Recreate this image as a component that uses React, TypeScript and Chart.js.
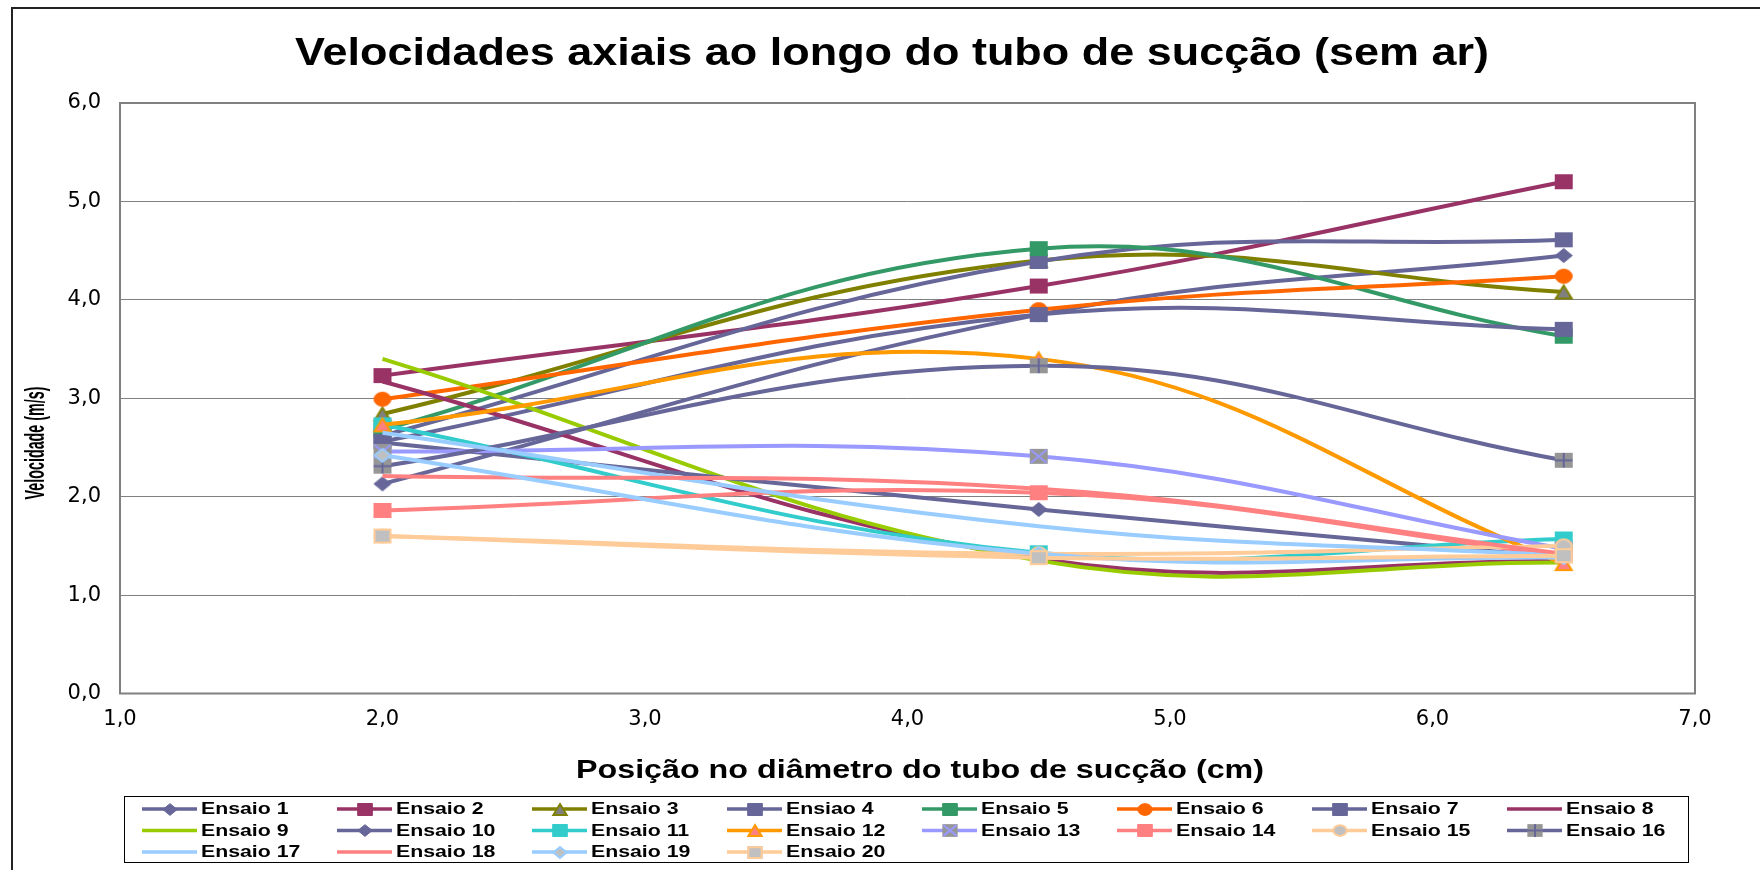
import React, { useEffect, useRef } from 'react';
import { Chart, registerables } from 'chart.js';

Chart.register(...registerables);

// ---------- DATA ----------
const positions = [2.0, 4.5, 6.5];
const seriesNames = [
  'Ensaio 1', 'Ensaio 2', 'Ensaio 3', 'Ensiao 4', 'Ensaio 5', 'Ensaio 6', 'Ensaio 7', 'Ensaio 8',
  'Ensaio 9', 'Ensaio 10', 'Ensaio 11', 'Ensaio 12', 'Ensaio 13', 'Ensaio 14', 'Ensaio 15', 'Ensaio 16',
  'Ensaio 17', 'Ensaio 18', 'Ensaio 19', 'Ensaio 20',
];
const ensaio1 = [2.13, 3.85, 4.45];
const ensaio2 = [3.23, 4.14, 5.2];
const ensaio3 = [2.84, 4.4, 4.08];
const ensaio4 = [2.62, 4.39, 4.61];
const ensaio5 = [2.68, 4.52, 3.63];
const ensaio6 = [2.99, 3.9, 4.24];
const ensaio7 = [2.56, 3.85, 3.7];
const ensaio8 = [3.17, 1.37, 1.35];
const ensaio9 = [3.4, 1.35, 1.33];
const ensaio10 = [2.55, 1.87, 1.38];
const ensaio11 = [2.73, 1.43, 1.57];
const ensaio12 = [2.73, 3.4, 1.32];
const ensaio13 = [2.46, 2.41, 1.47];
const ensaio14 = [1.86, 2.04, 1.4];
const ensaio15 = [1.6, 1.42, 1.5];
const ensaio16 = [2.31, 3.33, 2.37];
const ensaio17 = [2.65, 1.7, 1.4];
const ensaio18 = [2.21, 2.08, 1.42];
const ensaio19 = [2.42, 1.42, 1.38];
const ensaio20 = [1.6, 1.38, 1.4];
const seriesValues = [
  ensaio1, ensaio2, ensaio3, ensaio4, ensaio5, ensaio6, ensaio7, ensaio8, ensaio9, ensaio10,
  ensaio11, ensaio12, ensaio13, ensaio14, ensaio15, ensaio16, ensaio17, ensaio18, ensaio19, ensaio20,
];
const xTickValues = [1, 2, 3, 4, 5, 6, 7];
const yTickValues = [0, 1, 2, 3, 4, 5, 6];

const chartTitle = 'Velocidades axiais ao longo do tubo de sucção (sem ar)';
const xTitle = 'Posição no diâmetro do tubo de sucção (cm)';
const yTitle = 'Velocidade (m/s)';

// ---------- STYLES ----------
type MarkerKind = 'none' | 'square' | 'diamond' | 'triangle' | 'circle' | 'squareX' | 'squarePlus';
const lineColors = [
  '#666699', '#993366', '#808000', '#666699', '#339966', '#FF6600', '#666699', '#993366',
  '#99CC00', '#666699', '#33CCCC', '#FF9900', '#9999FF', '#FF8080', '#FFCC99', '#666699',
  '#99CCFF', '#FF8080', '#99CCFF', '#FFCC99',
];
const markerKinds: MarkerKind[] = [
  'diamond', 'square', 'triangle', 'square', 'square', 'circle', 'square', 'none',
  'none', 'diamond', 'square', 'triangle', 'squareX', 'square', 'circle', 'squarePlus',
  'none', 'none', 'diamond', 'square',
];
const markerFills = [
  '#666699', '#993366', '#808080', '#666699', '#339966', '#FF6600', '#666699', '',
  '', '#666699', '#33CCCC', '#FF8080', '#969696', '#FF8080', '#C0C0C0', '#969696',
  '', '', '#C0C0C0', '#C0C0C0',
];

const FONT = '"Liberation Sans", Arial, sans-serif';

function makeMarker(kind: MarkerKind, fill: string, stroke: string, scale = 1): HTMLCanvasElement | null {
  if (kind === 'none') return null;
  const w = 18 * scale;
  const h = 15 * scale;
  const pad = 2;
  const c = document.createElement('canvas');
  c.width = Math.ceil(w + pad * 2);
  c.height = Math.ceil(h + pad * 2);
  const ctx = c.getContext('2d')!;
  const cx = c.width / 2;
  const cy = c.height / 2;
  const lw = fill === stroke ? 1 : 2;
  ctx.lineWidth = lw;
  ctx.fillStyle = fill;
  ctx.strokeStyle = stroke;
  const iw = w - lw;
  const ih = h - lw;
  ctx.beginPath();
  if (kind === 'square' || kind === 'squareX' || kind === 'squarePlus') {
    ctx.rect(cx - w / 2, cy - h / 2, w, h);
    ctx.fill();
    if (kind === 'square') {
      ctx.beginPath();
      ctx.rect(cx - iw / 2, cy - ih / 2, iw, ih);
      ctx.stroke();
    } else if (kind === 'squareX') {
      ctx.beginPath();
      ctx.moveTo(cx - iw / 2, cy - ih / 2);
      ctx.lineTo(cx + iw / 2, cy + ih / 2);
      ctx.moveTo(cx + iw / 2, cy - ih / 2);
      ctx.lineTo(cx - iw / 2, cy + ih / 2);
      ctx.stroke();
    } else {
      ctx.beginPath();
      ctx.moveTo(cx, cy - h / 2);
      ctx.lineTo(cx, cy + h / 2);
      ctx.moveTo(cx - w / 2, cy);
      ctx.lineTo(cx + w / 2, cy);
      ctx.stroke();
    }
  } else if (kind === 'diamond') {
    ctx.moveTo(cx, cy - ih / 2);
    ctx.lineTo(cx + iw / 2, cy);
    ctx.lineTo(cx, cy + ih / 2);
    ctx.lineTo(cx - iw / 2, cy);
    ctx.closePath();
    ctx.fill();
    ctx.stroke();
  } else if (kind === 'triangle') {
    ctx.moveTo(cx, cy - ih / 2);
    ctx.lineTo(cx + iw / 2, cy + ih / 2);
    ctx.lineTo(cx - iw / 2, cy + ih / 2);
    ctx.closePath();
    ctx.fill();
    ctx.stroke();
  } else if (kind === 'circle') {
    ctx.ellipse(cx, cy, iw / 2, ih / 2, 0, 0, Math.PI * 2);
    ctx.fill();
    ctx.stroke();
  }
  return c;
}

function drawStretched(
  ctx: CanvasRenderingContext2D, text: string, x: number, y: number, font: string,
  opts: { width?: number; scaleX?: number; align?: 'left' | 'center'; rotate?: number },
) {
  ctx.save();
  ctx.font = font;
  ctx.fillStyle = '#000';
  ctx.textBaseline = 'middle';
  const natural = ctx.measureText(text).width;
  const sx = opts.width ? opts.width / natural : (opts.scaleX ?? 1);
  ctx.translate(x, y);
  if (opts.rotate) ctx.rotate(opts.rotate);
  ctx.scale(sx, 1);
  ctx.textAlign = opts.align === 'left' ? 'left' : 'center';
  ctx.fillText(text, 0, 0);
  ctx.restore();
}

export default function App() {
  const ref = useRef<HTMLCanvasElement | null>(null);

  useEffect(() => {
    const canvas = ref.current;
    if (!canvas) return;
    document.body.style.margin = '0';

    const chartMarkers = seriesNames.map((_, i) => makeMarker(markerKinds[i], markerFills[i], lineColors[i], 1));
    const legendMarkers = seriesNames.map((_, i) => makeMarker(markerKinds[i], markerFills[i], lineColors[i], 0.85));

    const datasets = seriesNames.map((name, i) => ({
      label: name,
      data: positions.map((x, k) => ({ x, y: seriesValues[i][k] })),
      borderColor: lineColors[i],
      backgroundColor: lineColors[i],
      borderWidth: 4,
      tension: 0.4,
      fill: false,
      pointStyle: (chartMarkers[i] ?? 'circle') as any,
      pointRadius: chartMarkers[i] ? 9 : 0,
      pointHoverRadius: chartMarkers[i] ? 9 : 0,
      order: seriesNames.length - i,
    }));

    const fmt = (v: number | string) => Number(v).toFixed(1).replace('.', ',');

    const decor = {
      id: 'decor',
      beforeDraw(chart: any) {
        const ctx = chart.ctx as CanvasRenderingContext2D;
        ctx.save();
        ctx.fillStyle = '#fff';
        ctx.fillRect(0, 0, chart.width, chart.height);
        ctx.restore();
      },
      beforeDatasetsDraw(chart: any) {
        const ctx = chart.ctx as CanvasRenderingContext2D;
        const a = chart.chartArea;
        ctx.save();
        ctx.strokeStyle = '#808080';
        ctx.lineWidth = 2;
        ctx.strokeRect(a.left, a.top, a.right - a.left, a.bottom - a.top);
        ctx.restore();
      },
      afterDraw(chart: any) {
        const ctx = chart.ctx as CanvasRenderingContext2D;
        // outer frame
        ctx.save();
        ctx.strokeStyle = '#222';
        ctx.lineWidth = 2;
        ctx.beginPath();
        ctx.moveTo(12, 880);
        ctx.lineTo(12, 8);
        ctx.lineTo(1770, 8);
        ctx.stroke();
        ctx.restore();

        drawStretched(ctx, chartTitle, 892, 55, `bold 38px ${FONT}`, { width: 1194 });
        drawStretched(ctx, xTitle, 920, 771, `bold 25px ${FONT}`, { width: 688 });
        drawStretched(ctx, yTitle, 37, 443, `bold 27px ${FONT}`, { width: 113, rotate: -Math.PI / 2 });

        // legend
        ctx.save();
        ctx.strokeStyle = '#000';
        ctx.lineWidth = 1;
        ctx.strokeRect(124.5, 796.5, 1564, 66);
        ctx.restore();
        const metas = chart.data.datasets;
        metas.forEach((ds: any, i: number) => {
          const col = i % 8;
          const row = Math.floor(i / 8);
          const x0 = 142 + col * 195;
          const y = 809 + row * 21.5;
          ctx.save();
          ctx.strokeStyle = ds.borderColor;
          ctx.lineWidth = 3.5;
          ctx.beginPath();
          ctx.moveTo(x0, y);
          ctx.lineTo(x0 + 55, y);
          ctx.stroke();
          const m = legendMarkers[i];
          if (m) ctx.drawImage(m, Math.round(x0 + 27.5 - m.width / 2), Math.round(y - m.height / 2));
          ctx.restore();
          drawStretched(ctx, ds.label, x0 + 59, y + 1, `bold 16px ${FONT}`, { scaleX: 1.33, align: 'left' });
        });
      },
    };

    const chart = new Chart(canvas, {
      type: 'line',
      data: { datasets: datasets as any },
      options: {
        responsive: false,
        animation: false,
        devicePixelRatio: 1,
        layout: { padding: { left: 0, top: 103, right: 65, bottom: 136.5 } },
        plugins: {
          legend: { display: false },
          title: { display: false },
          tooltip: { enabled: false },
        },
        scales: {
          x: {
            type: 'linear',
            min: 1,
            max: 7,
            afterFit: (s: any) => { s.height = 40; },
            afterBuildTicks: (s: any) => { s.ticks = xTickValues.map((v) => ({ value: v })); },
            ticks: {
              callback: (v: any) => fmt(v),
              font: { family: '"DejaVu Sans"', size: 21 },
              color: '#000',
              padding: 13,
              maxRotation: 0,
            },
            grid: { display: false, drawTicks: false },
            border: { display: false },
          },
          y: {
            type: 'linear',
            min: 0,
            max: 6,
            afterFit: (s: any) => { s.width = 120; },
            afterBuildTicks: (s: any) => { s.ticks = yTickValues.map((v) => ({ value: v })); },
            ticks: {
              callback: (v: any) => fmt(v),
              font: { family: '"DejaVu Sans"', size: 21 },
              color: '#000',
              padding: 19,
            },
            grid: { color: '#808080', lineWidth: 1, drawTicks: false },
            border: { display: false },
          },
        },
      },
      plugins: [decor],
    });

    return () => chart.destroy();
  }, []);

  return (
    <div style={{ position: 'fixed', left: 0, top: 0, width: 1760, height: 870, background: '#fff' }}>
      <canvas ref={ref} width={1760} height={870} style={{ width: 1760, height: 870, display: 'block' }} />
    </div>
  );
}
